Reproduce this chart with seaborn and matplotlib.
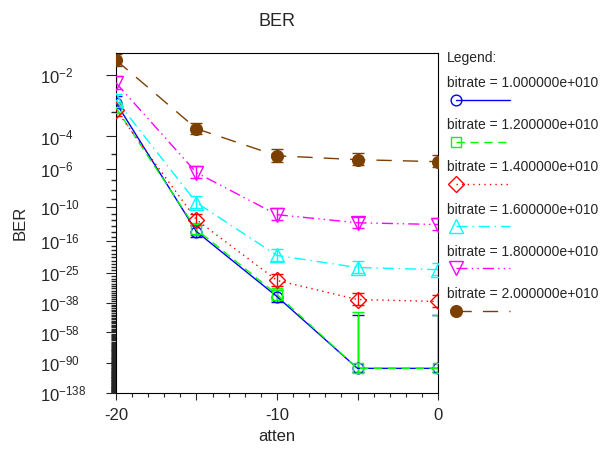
import numpy as np
import pandas as pd
import matplotlib
matplotlib.use("Agg")
import matplotlib.pyplot as plt
from matplotlib.lines import Line2D
import seaborn as sns

# ---- data ----------------------------------------------------------------
atten = [-20, -15, -10, -5, 0]

bitrates = ["1.000000e+010", "1.200000e+010", "1.400000e+010",
            "1.600000e+010", "1.800000e+010", "2.000000e+010"]

# -log10(BER) for each bitrate
exp_10g = [2.69, 14.0, 34.8, 96.9, 96.9]
exp_12g = [2.85, 13.6, 33.8, 96.9, 96.9]
exp_14g = [2.92, 11.9, 27.7, 36.3, 37.3]
exp_16g = [2.61, 9.43, 19.5, 23.1, 23.8]
exp_18g = [2.17, 6.33, 11.1, 12.4, 12.7]
exp_20g = [1.73, 3.64, 5.09, 5.35, 5.49]

# error bar extents in decades (up = towards larger BER)
err_up_10g = [0.18, 1.15, 2.9, 51.4, 51.4]
err_lo_10g = [0.18, 1.15, 2.9, 5.0, 5.0]
err_up_12g = [0.19, 1.1, 2.9, 53.3, 52.0]
err_lo_12g = [0.19, 1.1, 2.9, 5.0, 5.0]
err_up_14g = [0.2, 0.97, 2.3, 3.1, 3.2]
err_lo_14g = [0.2, 0.97, 2.3, 3.1, 3.2]
err_up_16g = [0.17, 0.76, 1.6, 1.9, 2.0]
err_lo_16g = [0.17, 0.76, 1.6, 1.9, 2.0]
err_up_18g = [0.14, 0.49, 0.9, 1.0, 1.05]
err_lo_18g = [0.14, 0.49, 0.9, 1.0, 1.05]
err_up_20g = [0.1, 0.26, 0.39, 0.41, 0.42]
err_lo_20g = [0.1, 0.26, 0.39, 0.41, 0.42]

exps    = [exp_10g, exp_12g, exp_14g, exp_16g, exp_18g, exp_20g]
errs_up = [err_up_10g, err_up_12g, err_up_14g, err_up_16g, err_up_18g, err_up_20g]
errs_lo = [err_lo_10g, err_lo_12g, err_lo_14g, err_lo_16g, err_lo_18g, err_lo_20g]

ytick_exp = [2, 4, 6, 10, 16, 25, 38, 58, 90, 138]

# ---- styles ----------------------------------------------------------------
COLORS  = ["#0000ff", "#00ff00", "#ff0000", "#00ffff", "#ff00ff", "#7b3f00"]
MARKERS = ["o", "s", "D", "^", "v", "o"]
MSIZES  = [7.7, 7.2, 8.0, 10, 10, 8.4]
FACES   = ["none"] * 5 + ["#7b3f00"]
DASHES  = ["-", (0, (6, 4)), (0, (1, 3)), (0, (8, 3.5, 1, 3.5)),
           (0, (8, 3, 1, 3, 1, 3)), (0, (11, 8))]

SHIFT = 0.6   # the BER axis is log(-log) like


def fwd(b):
    b = np.clip(np.asarray(b, dtype=float), 1e-300, 0.2)
    return -np.log10(-np.log10(b) - SHIFT)


def inv(v):
    return 10.0 ** (-(10.0 ** (-np.asarray(v, dtype=float)) + SHIFT))


sns.set_style("ticks")
plt.rcParams["font.family"] = ["Liberation Sans", "DejaVu Sans"]
plt.rcParams["axes.unicode_minus"] = False
plt.rcParams["mathtext.fontset"] = "custom"
plt.rcParams["mathtext.rm"] = "Liberation Sans"

W, H = 603, 454
fig = plt.figure(figsize=(W / 100, H / 100), dpi=100)
ax = fig.add_axes([116 / W, 1 - 393 / H, 322 / W, 340 / H])
ax.set_yscale("function", functions=(fwd, inv))

for i, e in enumerate(exps):
    e = np.array(e)
    ber = 10.0 ** -e
    df = pd.DataFrame({"atten": atten, "BER": ber})
    sns.lineplot(data=df, x="atten", y="BER", ax=ax, color=COLORS[i],
                 linestyle=DASHES[i], lw=1, marker=MARKERS[i],
                 markersize=MSIZES[i], mfc=FACES[i], mec=COLORS[i], mew=1,
                 estimator=None, legend=False, zorder=3)
    hi = 10.0 ** -(e - np.array(errs_up[i]))
    lo = 10.0 ** -(e + np.array(errs_lo[i]))
    ax.errorbar(atten, ber, yerr=[ber - lo, hi - ber], fmt="none",
                ecolor=COLORS[i], elinewidth=1, capsize=4, capthick=1, zorder=2)

ax.set_xlim(-20, 0)
ax.set_ylim(10.0 ** -138, 10.0 ** -1.62)

ax.set_xticks([-20, -15, -10, -5, 0], labels=["-20", "", "-10", "", "0"])
ax.set_xticks(np.arange(-20, 1, 1), minor=True)
ax.set_yticks([10.0 ** -k for k in ytick_exp],
              labels=[r"$\mathregular{10^{-%d}}$" % k for k in ytick_exp])
ax.set_yticks([10.0 ** -k for k in range(2, 139) if k not in ytick_exp],
              minor=True)

ax.tick_params(axis="x", which="major", length=5, width=0.8, labelsize=12,
               pad=6, direction="out")
ax.tick_params(axis="x", which="minor", length=3, width=0.8, direction="out")
ax.tick_params(axis="y", which="major", length=7.2, width=0.8, labelsize=12,
               pad=47.5, direction="out")
ax.tick_params(axis="y", which="minor", length=3.6, width=1.0, direction="out")
for lbl in ax.get_yticklabels():
    lbl.set_horizontalalignment("left")

for s in ax.spines.values():
    s.set_color("black")
    s.set_linewidth(0.8)

ax.set_title("BER", fontsize=13, pad=19.5)
ax.set_xlabel("atten", fontsize=12)
ax.set_ylabel("BER", fontsize=12)
ax.xaxis.set_label_coords(0.5, -0.106)
ax.yaxis.set_label_coords(-0.273, 0.5)

# ---- legend drawn at the right, text above each sample ---------------------
fig.text(447 / W, 1 - 58 / H, "Legend:", fontsize=10, va="center", ha="left")
for i, br in enumerate(bitrates):
    ty = 83 + 42.2 * i
    fig.text(447 / W, 1 - ty / H, "bitrate = " + br, fontsize=10,
             va="center", ha="left")
    sy = ty + 16.5
    fig.add_artist(Line2D([456 / W, 510 / W], [1 - sy / H] * 2,
                          transform=fig.transFigure, color=COLORS[i],
                          linestyle=DASHES[i], lw=1, marker=MARKERS[i],
                          markevery=[0], markersize=MSIZES[i], mfc=FACES[i],
                          mec=COLORS[i], mew=1))

fig.savefig("out.png", dpi=100)
